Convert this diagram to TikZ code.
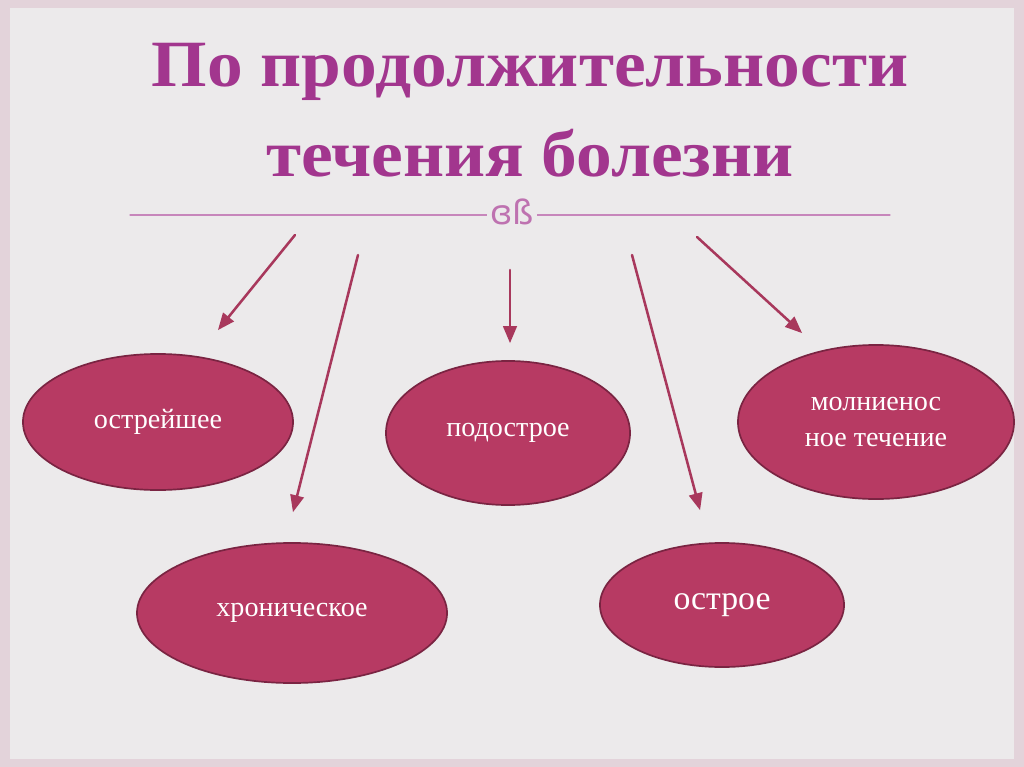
\documentclass[tikz,border=0pt]{standalone}
\usepackage{fontspec}
\setmainfont{Liberation Serif}
\newfontfamily\dejavu{DejaVu Sans}
\usetikzlibrary{arrows,shapes.geometric}
\definecolor{titlec}{HTML}{A2368E}
\definecolor{ovalc}{HTML}{B73A63}
\definecolor{ovald}{HTML}{7A2442}
\definecolor{arrowc}{HTML}{A8385C}
\definecolor{bgc}{HTML}{ECEAEB}
\definecolor{framec}{HTML}{E3D3DA}
\tikzset{oval/.style={ellipse,fill=ovalc,draw=ovald,line width=1.2pt,text=white,font=\fontsize{20}{26}\selectfont,align=center,inner sep=0pt},
pointer/.style={->,draw=arrowc,line width=1.8pt}}
\begin{document}
\begin{tikzpicture}[line cap=round,line join=round,>=triangle 45,x=0.025cm,y=-0.025cm]
\fill[framec] (0,0) rectangle (1024,767);
\fill[bgc] (10,8) rectangle (1014,759);
\useasboundingbox (0,0) rectangle (1024,767);
\node[text=titlec,font=\bfseries\fontsize{47}{64}\selectfont,align=center,xscale=1.08] (title) at (530,110) {По продолжительности\\течения болезни};
\draw[titlec!60,line width=0.8pt] (130,215)-- (890,215);
\node[fill=bgc,text=titlec!70,font=\dejavu\fontsize{24}{24}\selectfont,inner sep=2pt] (orn) at (512,212) {ɞß};
\node[oval,minimum width=6.75cm,minimum height=3.4cm] (o1) at (158,422) {острейшее};
\node[oval,minimum width=7.75cm,minimum height=3.5cm] (o2) at (292,613) {хроническое};
\node[oval,minimum width=6.1cm,minimum height=3.6cm] (o3) at (508,433) {подострое};
\node[oval,minimum width=6.1cm,minimum height=3.1cm,font=\fontsize{24}{28}\selectfont] (o4) at (722,605) {острое};
\node[oval,minimum width=6.9cm,minimum height=3.85cm] (o5) at (876,422) {молниенос\\ное течение};
\coordinate (s1) at (295,235); \coordinate (e1) at (218,330);
\coordinate (s2) at (358,255); \coordinate (e2) at (293,512);
\coordinate (s3) at (510,270); \coordinate (e3) at (510,343);
\coordinate (s4) at (632,255); \coordinate (e4) at (700,510);
\coordinate (s5) at (697,237); \coordinate (e5) at (802,333);
\foreach \i in {1,...,5}
  \draw[pointer] (s\i) -- (e\i);
\end{tikzpicture}
\end{document}
